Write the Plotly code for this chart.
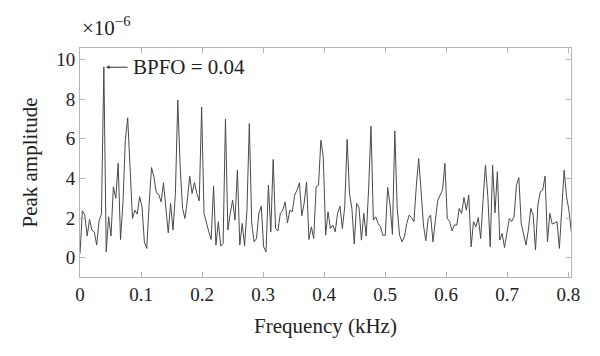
import numpy as np
import plotly.graph_objects as go

# Peak amplitude (x1e-6)
amplitude = [
    0.2, 2.37, 2.15, 1.1, 1.93, 1.4, 1.3, 0.64, 1.87, 2.2, 9.63, 0.3, 2.07, 1.1, 3.58, 3.0, 4.76, 0.92, 2.74, 5.93,
    7.06, 4.76, 1.98, 2.4, 2.2, 3.08, 2.57, 0.8, 0.47, 2.74, 4.55, 4.08, 3.28, 3.2, 2.82, 3.78, 2.57, 1.26, 2.74, 1.4,
    3.24, 7.95, 4.59, 2.49, 1.98, 2.9, 4.12, 3.24, 3.8, 3.24, 2.87, 7.6,
    2.24, 1.73, 1.31, 0.92, 3.61, 0.64, 1.82, 0.59, 0.72, 6.99, 1.4, 2.24, 2.9, 1.9, 4.42, 0.64, 1.73, 0.59, 2.4,
    6.77, 1.73, 0.8, 0.97, 2.24, 2.6, 0.55, 0.3, 3.66, 1.31, 4.96, 1.48, 1.36, 2.24, 2.4, 2.82, 1.76, 2.4, 2.32, 3.16,
    3.41, 3.78, 2.12, 2.77, 3.83, 0.92, 1.56, 0.97, 3.58, 3.66, 5.93, 5.09, 1.14,
    2.32, 1.48, 1.65, 1.31, 2.24, 2.6, 1.48, 2.57, 5.97, 3.24, 2.49, 0.69, 2.74, 2.54, 0.89, 2.24, 1.09, 3.41, 6.64,
    1.9, 2.07, 1.73, 1.56, 1.13, 1.14, 3.55, 2.66, 1.18, 6.4, 2.49, 1.14, 0.8, 1.06, 1.73, 2.15, 2.03, 1.82, 3.58,
    5.01, 3.41, 1.65, 0.86, 1.98, 2.15, 0.8, 1.9, 2.9, 3.16, 3.41, 4.76, 1.98,
    1.82, 1.36, 1.65, 1.65, 2.49, 2.24, 3.04, 2.4, 3.16, 0.55, 1.82, 1.56, 2.03, 0.97, 2.9, 4.67, 3.08, 0.55, 4.67,
    2.27, 4.34, 0.89, 1.23, 0.52, 1.26, 1.98, 1.82, 2.07, 3.66, 4.05, 1.73, 1.23, 0.64, 1.4, 2.49, 2.15, 0.39, 2.66,
    3.33, 3.41, 4.12, 0.8, 2.24, 1.7, 1.76, 1.82, 0.47, 2.66, 4.42, 3.08, 2.4, 1.31,
]
f_start = 0.0
f_end = 0.805
frequency = np.linspace(f_start, f_end, len(amplitude))

x_ticks = [0, 0.1, 0.2, 0.3, 0.4, 0.5, 0.6, 0.7, 0.8]
x_tick_labels = ["0", "0.1", "0.2", "0.3", "0.4", "0.5", "0.6", "0.7", "0.8"]
y_ticks = [0, 2, 4, 6, 8, 10]
y_tick_labels = ["0", "2", "4", "6", "8", "10"]

annot_x = 0.0426
annot_y = 9.61
annot_text = "BPFO = 0.04"

FONT = "Liberation Serif"
TXT = "#222222"
AX = "#b5b5b5"
FS = 19
FT = 21

fig = go.Figure()
fig.add_trace(go.Scatter(x=frequency, y=amplitude, mode="lines",
                         line=dict(color="#4a4a4a", width=1), showlegend=False,
                         hoverinfo="skip"))

axis_common = dict(showgrid=False, zeroline=False, showline=True, linecolor=AX, linewidth=1,
                   mirror="ticks", ticks="inside", ticklen=5, tickcolor=AX, automargin=False,
                   tickfont=dict(family=FONT, size=FS, color=TXT))

fig.update_xaxes(range=[0, 0.8045], tickvals=x_ticks, ticktext=x_tick_labels,
                 title=dict(text="Frequency (kHz)", font=dict(family=FONT, size=FT, color=TXT), standoff=14),
                 **axis_common)
fig.update_yaxes(range=[-0.97, 10.58], tickvals=y_ticks, ticktext=y_tick_labels,
                 title=dict(text="Peak amplitude", font=dict(family=FONT, size=FT, color=TXT), standoff=12),
                 **axis_common)

fig.add_annotation(x=annot_x, y=annot_y, xref="x", yref="y", text=annot_text,
                   showarrow=True, ax=83, ay=0, arrowhead=2, arrowsize=0.7, arrowwidth=1,
                   arrowcolor="#333333", standoff=0, borderpad=5,
                   font=dict(family=FONT, size=FT, color=TXT))
fig.add_annotation(x=0.0, y=1.025, xref="paper", yref="paper", text="×10<sup>−6</sup>",
                   showarrow=False, xanchor="left", yanchor="bottom",
                   font=dict(family=FONT, size=FT, color=TXT))

# the page body adds an 8 px margin, so the figure is sized to fit the 600x356 window
fig.update_layout(width=592, height=348, margin=dict(l=72, r=29, t=40, b=79),
                  paper_bgcolor="white", plot_bgcolor="white")

fig.write_html("out.html")
